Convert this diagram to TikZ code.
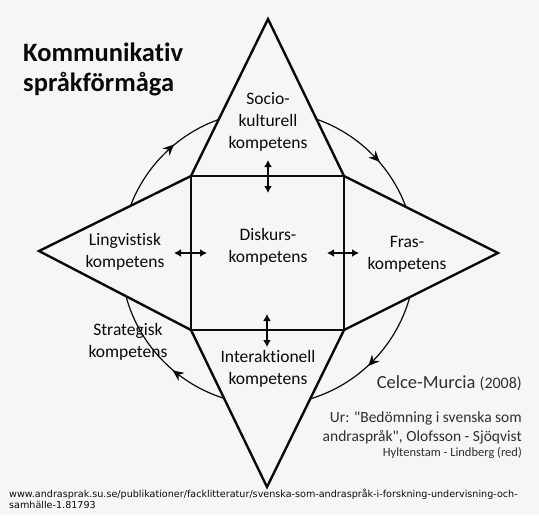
\documentclass[tikz,border=0pt]{standalone}
\usepackage{fontspec}
\setmainfont{Carlito}[Ligatures={NoCommon}]
\newfontfamily\urlfont{DejaVu Sans}
\usetikzlibrary{arrows.meta,decorations.markings}
\definecolor{bg}{RGB}{246,246,246}
\definecolor{ink}{RGB}{10,10,10}
\begin{document}
\begin{tikzpicture}[x=1pt,y=-1pt,
  lbl/.style={align=center,font=\fontsize{17.5}{22}\selectfont,text=ink,inner sep=0pt},
  dbl/.style={{Latex[length=7pt,width=8pt]}-{Latex[length=7pt,width=8pt]},line width=1.6pt,draw=ink},
  edge/.style={line width=2.4pt,draw=ink,line join=miter},
  note/.style={anchor=base east,inner sep=0pt,text=ink!85}]
\useasboundingbox[fill=bg] (0,0) rectangle (539,515);
% circle with clockwise arrows
\coordinate (C) at (268,258);
\draw[line width=1.2pt,draw=ink,postaction={decorate},
  decoration={markings,
   mark=at position 0.125 with {\arrow{Stealth[reversed,length=11pt,width=10pt]}},
   mark=at position 0.372 with {\arrow{Stealth[reversed,length=11pt,width=10pt]}},
   mark=at position 0.65 with {\arrow{Stealth[reversed,length=11pt,width=10pt]}},
   mark=at position 0.881 with {\arrow{Stealth[reversed,length=11pt,width=10pt]}}}]
  (C) circle[radius=147pt];
% star
\coordinate (T) at (268,19);
\coordinate (TR) at (344,176);
\coordinate (R) at (498,253);
\coordinate (BR) at (344,330);
\coordinate (B) at (267,487);
\coordinate (BL) at (191,330);
\coordinate (L) at (39,251);
\coordinate (TL) at (191,176);
\fill[bg] (T) -- (TR) -- (R) -- (BR) -- (B) -- (BL) -- (L) -- (TL) -- cycle;
\draw[edge] (T) -- (TR) -- (R) -- (BR) -- (B) -- (BL) -- (L) -- (TL) -- cycle;
\draw[edge] (TL) -- (TR) -- (BR) -- (BL) -- cycle;
% double arrows
\coordinate (a1) at (268,160); \coordinate (a2) at (268,193);
\coordinate (b1) at (267,314); \coordinate (b2) at (267,347);
\coordinate (c1) at (174,253); \coordinate (c2) at (207,253);
\coordinate (d1) at (327,253); \coordinate (d2) at (359,253);
\draw[dbl] (a1) -- (a2);
\draw[dbl] (b1) -- (b2);
\draw[dbl] (c1) -- (c2);
\draw[dbl] (d1) -- (d2);
% labels
\node[lbl] (soc) at (268,122) {Socio-\\kulturell\\kompetens};
\node[lbl] (lin) at (125,252) {Lingvistisk\\kompetens};
\node[lbl] (dis) at (268,247) {Diskurs-\\kompetens};
\node[lbl] (fra) at (407,254) {Fras-\\kompetens};
\node[lbl] (str) at (128,342) {Strategisk\\kompetens};
\node[lbl] (int) at (268,369) {Interaktionell\\kompetens};
% title
\node[anchor=base west,inner sep=0pt,font=\bfseries\fontsize{26.5}{30}\selectfont,text=ink] (t1) at (23,61) {Kommunikativ};
\node[anchor=base west,inner sep=0pt,font=\bfseries\fontsize{26.5}{30}\selectfont,text=ink] (t2) at (23,91) {språkförmåga};
% source notes
\node[note,font=\fontsize{18.5}{20}\selectfont] (cm) at (522,388) {Celce-Murcia {\fontsize{16}{18}\selectfont(2008)}};
\node[note,font=\fontsize{15.5}{18}\selectfont] (ur1) at (522,422) {Ur: \textquotedbl Bedömning i svenska som};
\node[note,font=\fontsize{15.5}{18}\selectfont] (ur2) at (522,441) {andraspråk\textquotedbl, Olofsson - Sjöqvist};
\node[note,font=\fontsize{12.5}{14}\selectfont] (ur3) at (522,456) {Hyltenstam - Lindberg (red)};
% url
\node[anchor=base west,inner sep=0pt,font=\urlfont\fontsize{9.6}{11}\selectfont,text=ink] (u1) at (9,497) {www.andrasprak.su.se/publikationer/facklitteratur/svenska-som-andraspråk-i-forskning-undervisning-och-};
\node[anchor=base west,inner sep=0pt,font=\urlfont\fontsize{9.6}{11}\selectfont,text=ink] (u2) at (9,508.5) {samhälle-1.81793};
\end{tikzpicture}
\end{document}
